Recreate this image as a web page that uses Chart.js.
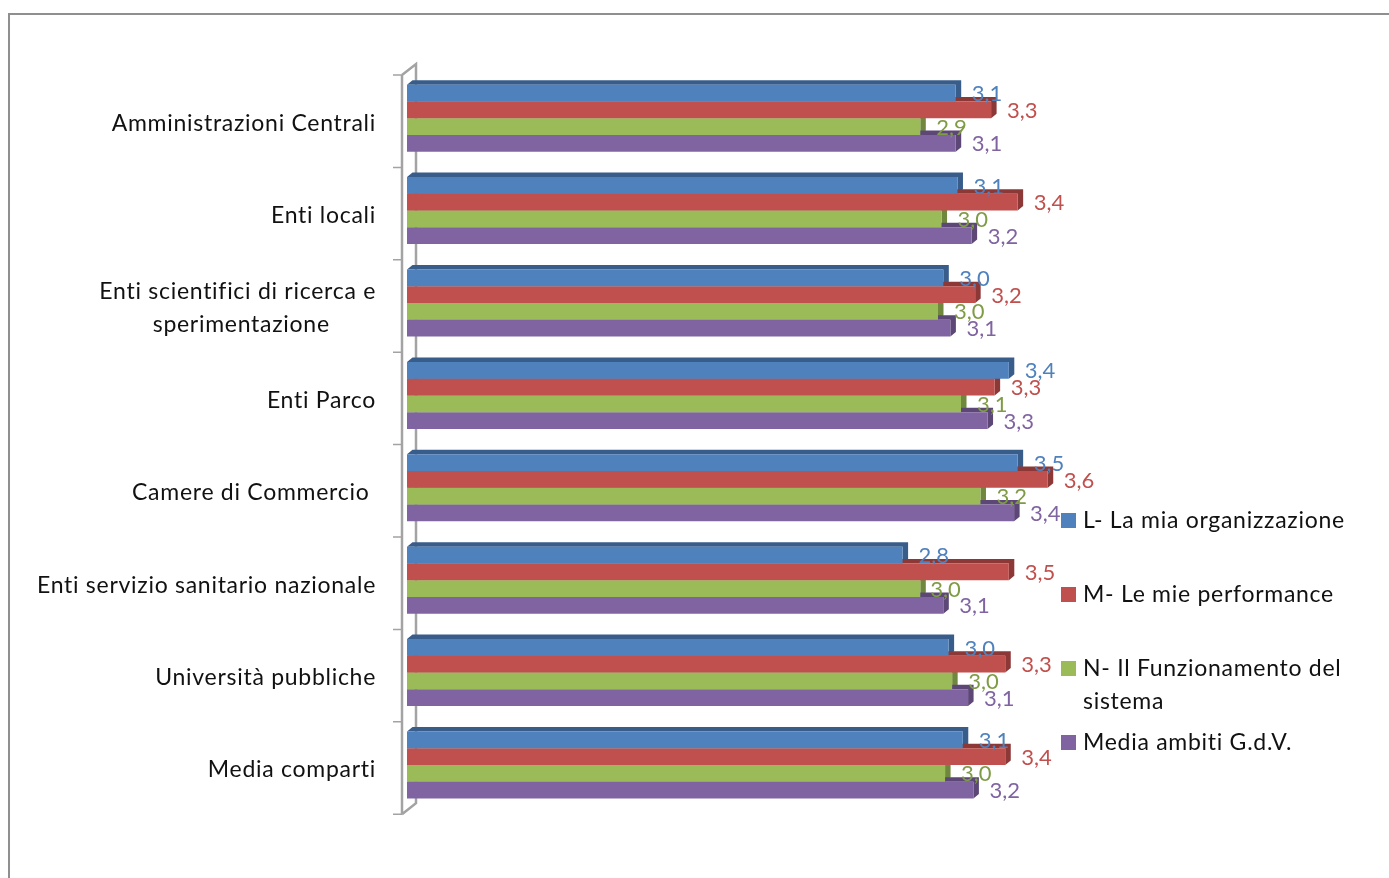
<!DOCTYPE html>
<html>
<head>
<meta charset="utf-8">
<style>
  html, body { margin: 0; padding: 0; background: #fff; overflow: hidden; }
  #wrap { position: relative; width: 1389px; height: 878px; }
  #frame { position: absolute; left: 8px; top: 13px; right: -4px; bottom: -4px; border: 2px solid #8f8f8f; }
  canvas { position: absolute; left: 0; top: 0; }
</style>
</head>
<body>
<div id="wrap">
  <div id="frame"></div>
  <canvas id="myChart" width="1389" height="878"></canvas>
</div>
<script src="https://cdn.jsdelivr.net/npm/chart.js@4/dist/chart.umd.min.js"></script>
<script>
// categories, the trailing spaces are what pushes these lines left like in the picture
const categories = [
  'Amministrazioni Centrali',
  'Enti locali',
  ['Enti scientifici di ricerca e', 'sperimentazione       '],
  'Enti Parco',
  'Camere di Commercio ',
  'Enti servizio sanitario nazionale',
  'Università pubbliche',
  'Media comparti'
];

const seriesNames = ['L- La mia organizzazione', 'M- Le mie performance', 'N- Il Funzionamento del', 'Media ambiti G.d.V.'];
const legendExtra = ['', '', 'sistema', ''];

// bar lengths
const valuesL = [3.10, 3.11, 3.03, 3.40, 3.45, 2.80, 3.06, 3.14];
const valuesM = [3.30, 3.45, 3.21, 3.32, 3.62, 3.40, 3.38, 3.38];
const valuesN = [2.90, 3.02, 3.00, 3.13, 3.24, 2.90, 3.08, 3.04];
const valuesG = [3.10, 3.19, 3.07, 3.28, 3.43, 3.03, 3.17, 3.20];

// printed labels (rounded in the source, they do not always agree with the bars)
const labelsL = ['3,1', '3,1', '3,0', '3,4', '3,5', '2,8', '3,0', '3,1'];
const labelsM = ['3,3', '3,4', '3,2', '3,3', '3,6', '3,5', '3,3', '3,4'];
const labelsN = ['2,9', '3,0', '3,0', '3,1', '3,2', '3,0', '3,0', '3,0'];
const labelsG = ['3,1', '3,2', '3,1', '3,3', '3,4', '3,1', '3,1', '3,2'];

const frontColors = ['#4f81bd', '#c0504d', '#9bbb59', '#8064a2'];
const depthColors = ['#385d8a', '#8c3836', '#6f883e', '#5c4776'];
const labelColors = ['#4f81bd', '#c0504d', '#7f9b45', '#8064a2'];
const allLabels = [labelsL, labelsM, labelsN, labelsG];

const FONT = 'Lato, "Open Sans", sans-serif';
const TEXT_SPACING = '0.72px';
const DX = 5.5, DY = 4.5;

// grey "wall" of the fake 3d axis + side and top faces of the bars
const depthPlugin = {
  id: 'depth',
  beforeDraw(chart) {
    chart.ctx.letterSpacing = TEXT_SPACING;
  },
  beforeDatasetsDraw(chart) {
    const { ctx, scales } = chart;
    const y = scales.y;
    const step = y.getPixelForValue(1) - y.getPixelForValue(0);
    const first = y.getPixelForValue(0) - step / 2 + 3;
    const last = first + step * categories.length;

    ctx.save();
    ctx.strokeStyle = '#a3a3a3';
    ctx.lineWidth = 2.5;
    ctx.beginPath();
    ctx.moveTo(402, first);
    ctx.lineTo(402, last);
    ctx.moveTo(402, first);
    ctx.lineTo(416, first - 11);
    ctx.lineTo(416, last - 11);
    ctx.lineTo(402, last);
    ctx.stroke();
    ctx.lineWidth = 1.5;
    ctx.beginPath();
    for (let i = 0; i <= categories.length; i++) {
      ctx.moveTo(393, first + step * i);
      ctx.lineTo(402, first + step * i);
    }
    ctx.stroke();

    chart.data.datasets.forEach((ds, d) => {
      chart.getDatasetMeta(d).data.forEach(bar => {
        const top = bar.y - bar.height / 2;
        const bottom = bar.y + bar.height / 2;
        const left = bar.base;
        ctx.fillStyle = depthColors[d];
        ctx.beginPath();
        ctx.moveTo(left, top);
        ctx.lineTo(left + DX, top - DY);
        ctx.lineTo(bar.x + DX, top - DY);
        ctx.lineTo(bar.x + DX, bottom - DY);
        ctx.lineTo(bar.x, bottom);
        ctx.lineTo(bar.x, top);
        ctx.closePath();
        ctx.fill();
      });
    });
    ctx.restore();
  }
};

// value labels and legend
const textPlugin = {
  id: 'texts',
  afterDatasetsDraw(chart) {
    const { ctx } = chart;
    ctx.save();
    ctx.textBaseline = 'middle';
    ctx.textAlign = 'left';
    ctx.letterSpacing = '0px';
    ctx.font = '22px ' + FONT;
    chart.data.datasets.forEach((ds, d) => {
      ctx.fillStyle = labelColors[d];
      chart.getDatasetMeta(d).data.forEach((bar, i) => {
        // the 3,0 of the sanitario group sits closer to its bar in the original
        const shift = d === 2 && i === 5 ? 10 : 16;
        ctx.fillText(allLabels[d][i], bar.x + shift, bar.y + 1);
      });
    });

    const legendY = [521, 595, 669, 743];
    ctx.letterSpacing = TEXT_SPACING;
    seriesNames.forEach((name, i) => {
      ctx.fillStyle = frontColors[i];
      ctx.fillRect(1061, legendY[i] - 8, 15, 15);
      ctx.fillStyle = '#111';
      ctx.font = '23px ' + FONT;
      ctx.fillText(name, 1083, legendY[i]);
      if (legendExtra[i]) ctx.fillText(legendExtra[i], 1083, legendY[i] + 33);
    });
    ctx.restore();
  }
};

new Chart(document.getElementById('myChart').getContext('2d'), {
  type: 'bar',
  data: {
    labels: categories,
    datasets: [
      { label: seriesNames[0], data: valuesL, backgroundColor: frontColors[0] },
      { label: seriesNames[1], data: valuesM, backgroundColor: frontColors[1] },
      { label: seriesNames[2], data: valuesN, backgroundColor: frontColors[2] },
      { label: seriesNames[3], data: valuesG, backgroundColor: frontColors[3] }
    ]
  },
  options: {
    indexAxis: 'y',
    responsive: false,
    animation: false,
    barPercentage: 1,
    categoryPercentage: 0.725,
    layout: { padding: { left: 0, right: 274, top: 72, bottom: 66.8 } },
    plugins: { legend: { display: false }, tooltip: { enabled: false } },
    scales: {
      x: { display: false, min: 0, max: 4 },
      y: {
        afterFit(scale) { scale.width = 407; },
        border: { display: false },
        grid: { display: false },
        ticks: {
          autoSkip: false,
          padding: 23,
          labelOffset: 5,
          color: '#111',
          font: { family: FONT, size: 23, lineHeight: 1.43 }
        }
      }
    }
  },
  plugins: [depthPlugin, textPlugin]
});
</script>
</body>
</html>
